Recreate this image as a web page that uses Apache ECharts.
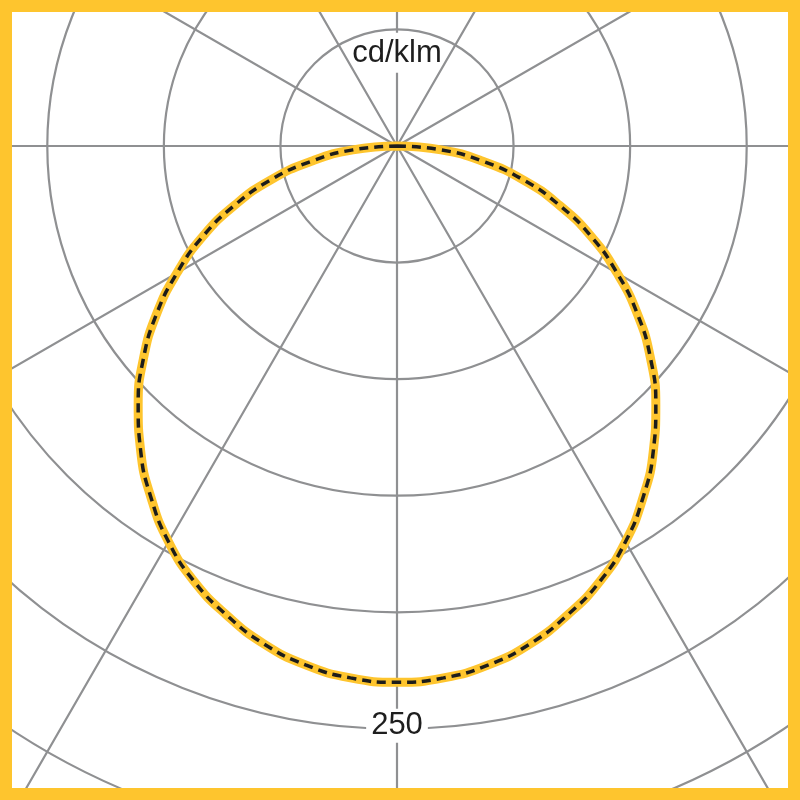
<!DOCTYPE html>
<html>
<head>
<meta charset="utf-8">
<script src="https://cdn.jsdelivr.net/npm/echarts@6/dist/echarts.min.js"></script>
<style>
html,body{margin:0;padding:0;background:#fff;}
#c{width:800px;height:800px;}
</style>
</head>
<body>
<div id="c"></div>
<script>
// Gamma angles (degrees from nadir), left side negative / right side positive
const gammaAngles = [-90,-85,-80,-75,-70,-65,-60,-55,-50,-45,-40,-35,-30,-25,-20,-15,-10,-5,
                     0,5,10,15,20,25,30,35,40,45,50,55,60,65,70,75,80,85,90];
// Luminous intensity (cd/klm)
const intensity = [0,19,37,56,74,92,109,126,142,157,171,184,196,206,214,221,226,229,
                   230,229,226,221,214,206,196,184,171,157,142,126,109,92,74,56,37,19,0];
// Axis setup values
const radiusMin = 0, radiusMax = 350, ringStep = 50;
const angleMin = -180, angleMax = 180, spokeStep = 30;
const unitLabel = 'cd/klm';
const unitLabelRadius = 40;
const ringLabelValue = 250;

const gridColor = '#8f9092';
const curveYellow = '#FEC52E';

const chart = echarts.init(document.getElementById('c'), null, {renderer: 'canvas'});
const curveData = gammaAngles.map((a, i) => [intensity[i], a]);

chart.setOption({
  backgroundColor: '#ffffff',
  animation: false,
  polar: {center: [397, 146], radius: 816},
  angleAxis: {
    type: 'value', min: angleMin, max: angleMax, interval: spokeStep,
    startAngle: 90, clockwise: true,
    axisLine: {show: false}, axisTick: {show: false}, axisLabel: {show: false},
    splitLine: {show: true, lineStyle: {color: gridColor, width: 2.2, opacity: 1}}
  },
  radiusAxis: {
    type: 'value', min: radiusMin, max: radiusMax, interval: ringStep,
    axisLine: {show: false}, axisTick: {show: false}, axisLabel: {show: false},
    splitLine: {show: true, lineStyle: {color: gridColor, width: 2.2, opacity: 1}}
  },
  series: [
    {type: 'line', coordinateSystem: 'polar', data: curveData, showSymbol: false, smooth: 0.5,
     lineStyle: {color: curveYellow, width: 9, cap: 'round', join: 'round'}, z: 3},
    {type: 'line', coordinateSystem: 'polar', data: curveData, showSymbol: false, smooth: 0.5,
     lineStyle: {color: '#1d1d1b', width: 3.5, type: [9, 6]}, z: 4}
  ]
});

const pUnit = chart.convertToPixel({polarIndex: 0}, [unitLabelRadius, 180]);
const pRing = chart.convertToPixel({polarIndex: 0}, [ringLabelValue, 0]);

chart.setOption({
  graphic: [
    {type: 'rect', z: 50, shape: {x: pUnit[0] - 4, y: pUnit[1] - 20, width: 8, height: 40},
     style: {fill: '#ffffff'}},
    {type: 'text', z: 51, x: pUnit[0], y: pUnit[1] + 1,
     style: {text: unitLabel, font: '31px "Liberation Sans", Arial, sans-serif', fill: '#1e1e1e',
             align: 'center', verticalAlign: 'middle'}},
    {type: 'text', z: 51, x: pRing[0], y: pRing[1] - 3,
     style: {text: String(ringLabelValue), font: '31px "Liberation Sans", Arial, sans-serif', fill: '#1e1e1e',
             align: 'center', verticalAlign: 'middle', backgroundColor: '#ffffff', padding: [2, 5, 1, 5]}},
    {type: 'rect', z: 100, shape: {x: 6, y: 6, width: 788, height: 788},
     style: {fill: 'none', stroke: curveYellow, lineWidth: 12}}
  ]
});
</script>
</body>
</html>
